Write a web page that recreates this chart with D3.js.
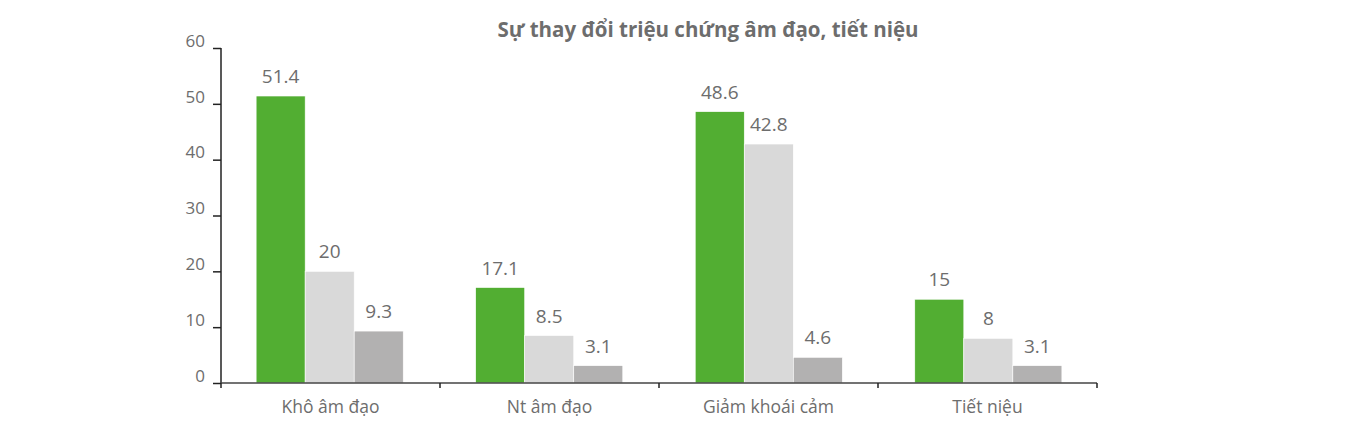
<!DOCTYPE html>
<html>
<head>
<meta charset="utf-8">
<script src="https://cdn.jsdelivr.net/npm/d3@7"></script>
<style>
  body { margin: 0; background: #fff; }
  text { font-family: "Open Sans", "DejaVu Sans", sans-serif; fill: #6d6d6d; }
</style>
</head>
<body>
<svg id="chart" width="1362" height="423"></svg>
<script>
var title = "Sự thay đổi triệu chứng âm đạo, tiết niệu";
var categories = ["Khô âm đạo", "Nt âm đạo", "Giảm khoái cảm", "Tiết niệu"];
var seriesA = [51.4, 17.1, 48.6, 15];
var seriesB = [20, 8.5, 42.8, 8];
var seriesC = [9.3, 3.1, 4.6, 3.1];
var yTicks = [0, 10, 20, 30, 40, 50, 60];

var colors = ["#52ae32", "#d9d9d9", "#b2b1b1"];
var series = [seriesA, seriesB, seriesC];

var margin = {top: 48, right: 265, bottom: 40, left: 221},
    width = 1362 - margin.left - margin.right,
    height = 383 - margin.top;

var svg = d3.select("#chart");

svg.append("text")
    .attr("x", 708)
    .attr("y", 37)
    .attr("text-anchor", "middle")
    .style("font-size", "20.5px")
    .style("font-weight", "bold")
    .text(title);

var g = svg.append("g")
    .attr("transform", "translate(" + margin.left + "," + margin.top + ")");

var x = d3.scaleBand()
    .domain(categories)
    .range([0, width])
    .paddingInner(0.33)
    .paddingOuter(0.16);

var xOuter = d3.scaleBand()
    .domain(categories)
    .range([0, width]);

var sub = d3.scaleBand()
    .domain(d3.range(series.length))
    .range([0, x.bandwidth()]);

var y = d3.scaleLinear()
    .domain([0, 60])
    .range([height, 0]);

var groups = g.selectAll(".group")
    .data(categories)
    .enter().append("g")
    .attr("class", "group")
    .attr("transform", function(d) { return "translate(" + x(d) + ",0)"; });

var cells = groups.selectAll(".bar")
    .data(function(d, i) { return series.map(function(s, k) { return {k: k, v: s[i]}; }); })
    .enter().append("g")
    .attr("class", "bar");

cells.append("rect")
    .attr("x", function(d) { return sub(d.k); })
    .attr("y", function(d) { return y(d.v); })
    .attr("width", sub.bandwidth())
    .attr("height", function(d) { return height - y(d.v); })
    .style("fill", function(d) { return colors[d.k]; })
    .style("stroke", "#fff")
    .style("stroke-width", 0.6);

cells.append("text")
    .attr("x", function(d) { return sub(d.k) + sub.bandwidth() / 2; })
    .attr("y", function(d) { return y(d.v) - 13; })
    .attr("text-anchor", "middle")
    .style("font-size", "19px")
    .text(function(d) { return d.v; });

// y axis
var yAxis = g.append("g")
    .call(d3.axisLeft(y).tickValues(yTicks).tickSize(8).tickPadding(8));
yAxis.select(".domain").attr("stroke", "#222").attr("stroke-width", 1.5)
    .attr("d", "M0," + y(60) + "V" + height);
yAxis.selectAll(".tick line").attr("stroke", "#222").attr("stroke-width", 1.5);
yAxis.selectAll(".tick text").style("font-size", "17px").attr("dy", "-0.1em").style("fill", "#6d6d6d");

// x axis
var xAxis = g.append("g")
    .attr("transform", "translate(0," + height + ")");
xAxis.append("line")
    .attr("x1", 0).attr("x2", width)
    .attr("stroke", "#444").attr("stroke-width", 1.5);
xAxis.selectAll(".xtick")
    .data(categories.concat(["end"]))
    .enter().append("line")
    .attr("x1", function(d, i) { return i < categories.length ? xOuter(d) : width; })
    .attr("x2", function(d, i) { return i < categories.length ? xOuter(d) : width; })
    .attr("y1", 0).attr("y2", 5)
    .attr("stroke", "#222").attr("stroke-width", 1.5);
xAxis.selectAll(".xlabel")
    .data(categories)
    .enter().append("text")
    .attr("x", function(d) { return xOuter(d) + xOuter.bandwidth() / 2; })
    .attr("y", 30)
    .attr("text-anchor", "middle")
    .style("font-size", "17.5px")
    .text(function(d) { return d; });
</script>
</body>
</html>
